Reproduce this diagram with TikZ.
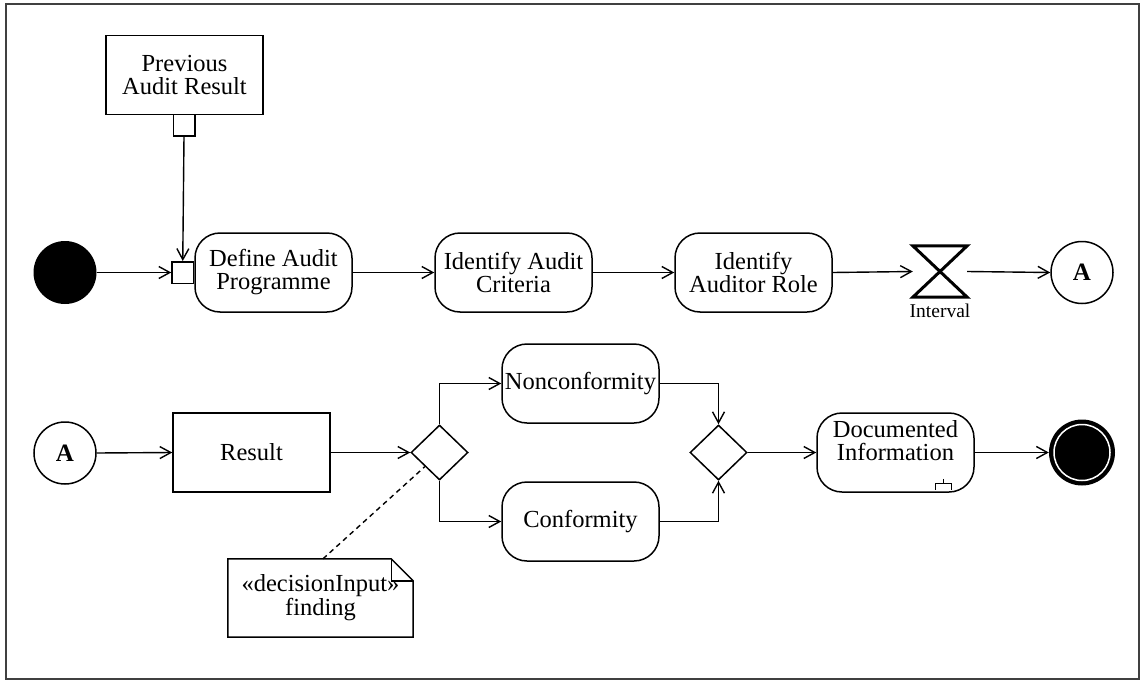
\documentclass[tikz,border=0pt]{standalone}
\usepackage{fontspec}
\setmainfont{Liberation Serif}
\usetikzlibrary{arrows.meta,shapes.geometric}
\begin{document}
\begin{tikzpicture}[x=1pt,y=-1pt,
  every node/.style={font=\fontsize{24.5}{23}\selectfont, inner sep=0pt},
  outline/.style={draw, line width=1.5pt},
  action/.style={outline, rounded corners=25pt, minimum width=157pt, minimum height=79pt, align=center},
  objbox/.style={outline, minimum width=157pt, minimum height=79pt, align=center},
  pinbox/.style={outline, fill=white, minimum size=21.5pt},
  decision/.style={outline, diamond, minimum width=57pt, minimum height=55pt},
  connector/.style={outline, circle, minimum size=62pt, font=\fontsize{25}{25}\selectfont\bfseries},
  flow/.style={line width=1.4pt, -{Straight Barb[length=11pt,width=12pt,line width=1.4pt]}},
  plain/.style={line width=1.4pt}
]
\useasboundingbox (0,0) rectangle (1141,680);
\draw[line width=1.3pt, black!75] (6,4) rectangle (1139,679);

% ---- upper row ----
\node[objbox] (prev) at (184.5,75) {Previous\\Audit Result};
\node[pinbox] (pinout) at (184,125) {};
\node[circle, fill=black, minimum size=63pt] (init) at (65,272.5) {};
\node[action] (define) at (273.5,272.5) {Define Audit\\Programme};
\node[pinbox, anchor=east] (pinin) at (define.west) {};
\node[action] (criteria) at (513.5,272.5) {Identify Audit\\Criteria};
\node[action] (role) at (753.5,272.5) {Identify\\Auditor Role};
\node[minimum width=54pt, minimum height=51pt] (timer) at (940,271.5) {};
\draw[line width=3pt, line join=miter]
  (timer.north west) -- (timer.north east) -- (timer.south west) -- (timer.south east) -- cycle;
\node[font=\fontsize{19.5}{20}\selectfont, anchor=north] (timerlbl) at (940,304) {Interval};
\node[connector] (goA) at (1082,272.5) {A};

\draw[flow] (pinout.south) -- (pinin.north);
\draw[flow] (init.east) -- (pinin.west);
\draw[flow] (define.east) -- (criteria.west);
\draw[flow] (criteria.east) -- (role.west);
\draw[flow] (role.east) -- (timer.west);
\draw[flow] (timer.east) -- (goA.west);

% ---- lower row ----
\node[connector] (fromA) at (65,453) {A};
\node[objbox] (result) at (251.5,452.5) {Result};
\node[decision] (dec) at (439.5,452.5) {};
\node[action] (nonconf) at (580.5,383.5) {Nonconformity};
\node[action] (conf) at (580.5,521.5) {Conformity};
\node[decision] (merge) at (718.5,452.5) {};
\node[action] (doc) at (895.5,452.5) {};
\node[align=center] (doctext) at ([yshift=12pt]doc.center) {Documented\\Information};
% rake (call behaviour) symbol
\draw[plain] ([shift={(-31pt,14pt)}]doc.south east) -- ([shift={(-31pt,9pt)}]doc.south east);
\draw[plain] ([shift={(-39pt,3pt)}]doc.south east) -- ([shift={(-39pt,9pt)}]doc.south east)
  -- ([shift={(-23pt,9pt)}]doc.south east) -- ([shift={(-23pt,3pt)}]doc.south east);
\node[circle, fill=black, minimum size=66pt] (final) at (1082,452.5) {};
\draw[white, line width=1.5pt] (final.center) circle (28pt);

\draw[flow] (fromA.east) -- (result.west);
\draw[flow] (result.east) -- (dec.west);
\draw[flow] (dec.north) |- (nonconf.west);
\draw[flow] (dec.south) |- (conf.west);
\draw[flow] (nonconf.east) -| (merge.north);
\draw[flow] (conf.east) -| (merge.south);
\draw[flow] (merge.east) -- (doc.west);
\draw[flow] (doc.east) -- (final.west);

% ---- decision input note ----
\node[minimum width=185pt, minimum height=78pt, align=center] (note) at (320.5,598)
  {«decisionInput»\\[1pt]finding};
\draw[line width=1.5pt, line join=miter]
  (note.north west) -- ([xshift=-22pt]note.north east) -- ([yshift=-22pt]note.north east)
  -- (note.south east) -- (note.south west) -- cycle;
\draw[line width=1.4pt]
  ([xshift=-22pt]note.north east) -- ([shift={(-22pt,-22pt)}]note.north east) -- ([yshift=-22pt]note.north east);
\draw[line width=1.4pt, dash pattern=on 5pt off 4pt] ([xshift=2.5pt]note.north) -- (dec.south west);
\end{tikzpicture}
\end{document}
